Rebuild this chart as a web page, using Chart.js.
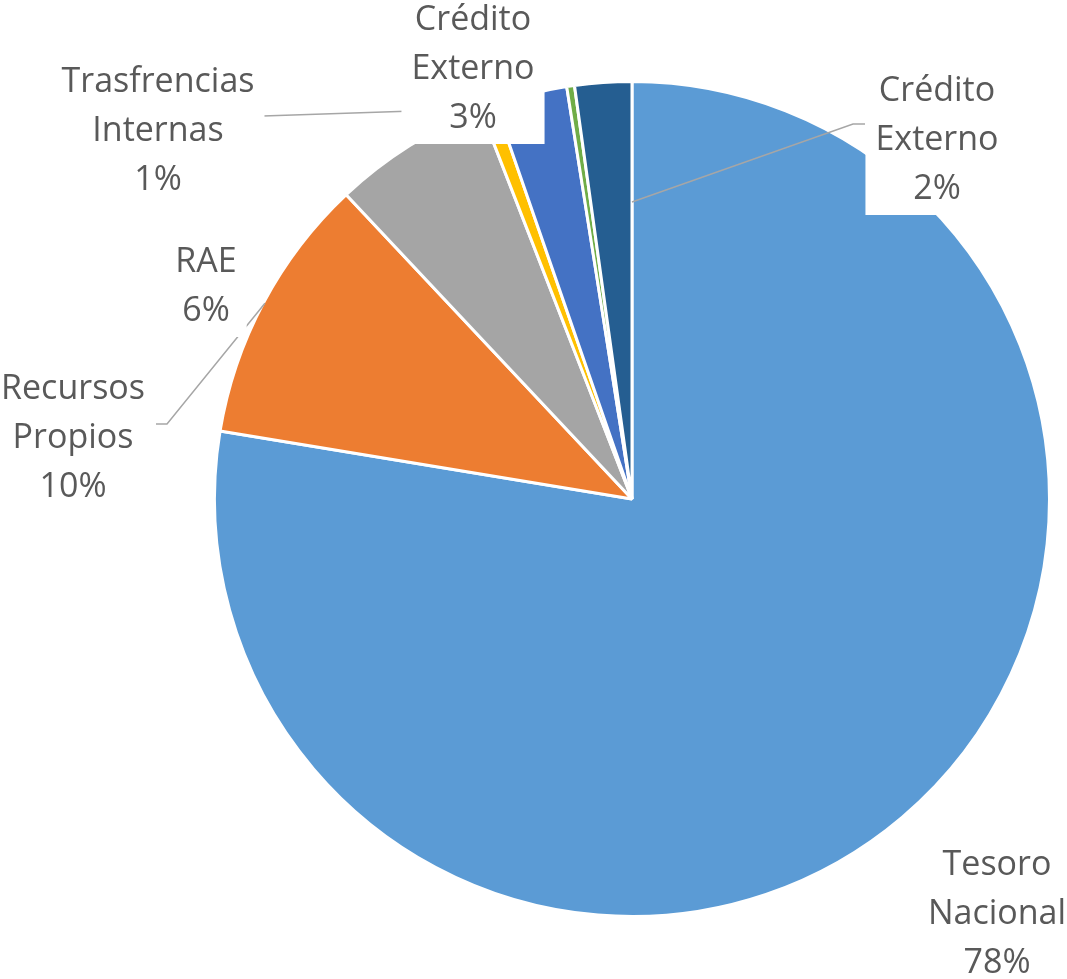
<!DOCTYPE html>
<html>
<head>
<meta charset="utf-8">
<script src="https://cdn.jsdelivr.net/npm/chart.js@4/dist/chart.umd.min.js"></script>
<style>
  html,body{margin:0;padding:0;background:#fff;}
  #wrap{width:1067px;height:979px;position:relative;}
</style>
</head>
<body>
<div id="wrap"><canvas id="pie"></canvas></div>
<script>
// fuentes de financiamiento (en %)
const categories=["Tesoro Nacional","Recursos Propios","RAE","Trasfrencias Internas","Crédito Externo","Otros","Crédito Externo"];
const values=[77.6,10.4,6.1,0.6,2.8,0.3,2.2];
const colors=['#5B9BD5','#ED7D31','#A5A5A5','#FFC000','#4472C4','#70AD47','#255E91'];

// ubicación de las etiquetas (x centro, primera línea base) y líneas guía
const labelLayout=[
  {index:0,cx:997,y:875},
  {index:1,cx:73,y:399,leader:{from:[[156,424],[167,424]],at:'mid',f:1}},
  {index:2,cx:206,y:272},
  {index:3,cx:158,y:92,leader:{from:[[263,116]],at:'mid',f:1}},
  {index:4,cx:473,y:30},
  {index:6,cx:937,y:101,leader:{from:[[865,124],[853,124]],at:'end',f:0.714}}
];

const FONT='34px "Open Sans"';
const LINE=49, PAD=10;

const sliceLabels={
  id:'sliceLabels',
  afterDatasetsDraw(chart){
    const ctx=chart.ctx;
    const arcs=chart.getDatasetMeta(0).data;
    const total=values.reduce((a,c)=>a+c,0);
    ctx.save();
    // líneas guía
    ctx.strokeStyle='#A6A6A6';
    ctx.lineWidth=1.5;
    labelLayout.forEach(l=>{
      if(!l.leader) return;
      const p=arcs[l.index].getProps(['x','y','startAngle','endAngle','outerRadius'],true);
      const a=l.leader.at==='end'?p.endAngle:(l.leader.at==='start'?p.startAngle:(p.startAngle+p.endAngle)/2);
      const r=(p.outerRadius-1.5)*l.leader.f;
      ctx.beginPath();
      l.leader.from.forEach((pt,i)=>{ if(i===0) ctx.moveTo(pt[0],pt[1]); else ctx.lineTo(pt[0],pt[1]); });
      ctx.lineTo(p.x+Math.cos(a)*r,p.y+Math.sin(a)*r);
      ctx.stroke();
    });
    // cajas blancas y texto
    ctx.font=FONT;
    ctx.textAlign='center';
    ctx.textBaseline='alphabetic';
    labelLayout.forEach(l=>{
      const lines=categories[l.index].split(' ');
      lines.push(Math.round(values[l.index]/total*100)+'%');
      const w=Math.max(...lines.map(t=>ctx.measureText(t).width))+PAD*2;
      const top=l.y-37, bottom=l.y+(lines.length-1)*LINE+16;
      ctx.fillStyle='#ffffff';
      ctx.fillRect(l.cx-w/2,top,w,bottom-top);
      ctx.fillStyle='#595959';
      lines.forEach((t,i)=>ctx.fillText(t,l.cx,l.y+i*LINE));
    });
    ctx.restore();
  }
};

new Chart(document.getElementById('pie'),{
  type:'pie',
  data:{labels:categories,datasets:[{data:values,backgroundColor:colors,borderColor:'#ffffff',borderWidth:3}]},
  options:{
    responsive:true,
    maintainAspectRatio:false,
    animation:false,
    radius:417.5,
    layout:{padding:{left:197,right:0,top:19,bottom:0}},
    plugins:{legend:{display:false},tooltip:{enabled:false}}
  },
  plugins:[sliceLabels]
});
</script>
</body>
</html>
